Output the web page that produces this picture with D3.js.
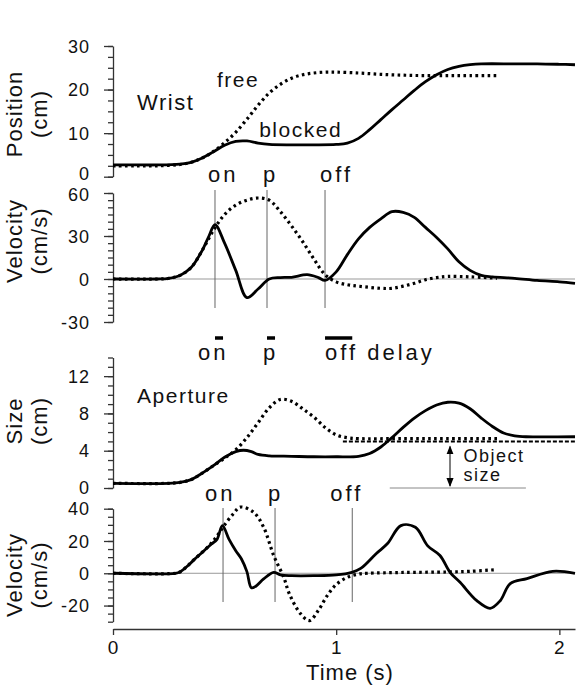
<!DOCTYPE html>
<html>
<head>
<meta charset="utf-8">
<script src="https://cdn.jsdelivr.net/npm/d3@7"></script>
<style>
  body { margin: 0; background: #fff; }
  svg { display: block; font-family: "Liberation Sans", Arial, sans-serif; }
  .tick text { font-size: 18px; letter-spacing: 1px; fill: #111; }
  .domain, .tick line { stroke: #333; stroke-width: 1.3; }
  .title { font-size: 22px; letter-spacing: 1px; fill: #111; }
  .note { font-size: 21px; letter-spacing: 1.5px; fill: #111; }
  .event { font-size: 22px; letter-spacing: 3px; fill: #111; }
  .solid { fill: none; stroke: #000; stroke-width: 2.8; }
  .dotted { fill: none; stroke: #000; stroke-width: 3.2; stroke-dasharray: 2.6 3.4; }
</style>
</head>
<body>
<svg id="chart" width="581" height="687"></svg>
<script>
// ---- data (time in s) ----
const wristPosBlocked = [[0,2.7],[0.1,2.7],[0.2,2.7],[0.3,2.9],[0.35,3.3],[0.4,4.3],[0.45,5.7],[0.5,7.2],[0.55,8.1],[0.6,8.2],[0.65,7.7],[0.7,7.4],[0.8,7.3],[0.9,7.3],[1.0,7.4],[1.05,7.7],[1.1,8.8],[1.15,10.8],[1.2,13.1],[1.25,15.4],[1.3,17.6],[1.35,19.8],[1.4,21.8],[1.45,23.4],[1.5,24.6],[1.55,25.3],[1.6,25.7],[1.65,25.9],[1.8,25.9],[1.9,25.9],[2.0,25.8],[2.07,25.7]];
const wristPosFree = [[0,2.5],[0.1,2.5],[0.2,2.5],[0.3,2.8],[0.35,3.3],[0.4,4.3],[0.45,5.8],[0.5,7.8],[0.55,10.2],[0.6,13.2],[0.65,16.4],[0.7,19.2],[0.75,21.2],[0.8,22.6],[0.85,23.4],[0.9,23.8],[0.95,24.0],[1.0,24.0],[1.1,23.8],[1.2,23.5],[1.3,23.3],[1.4,23.2],[1.5,23.2],[1.6,23.2],[1.72,23.2]];

const wristVelBlocked = [[0,0],[0.2,0],[0.25,0.5],[0.3,2.5],[0.35,8],[0.4,20],[0.43,30],[0.457,38],[0.5,25],[0.55,6],[0.6,-13],[0.65,-7],[0.7,0],[0.75,1],[0.8,1.2],[0.87,3],[0.92,1],[0.95,-1],[1.0,5],[1.05,17],[1.1,28],[1.15,36],[1.2,42],[1.25,47],[1.3,46.5],[1.35,43],[1.4,36],[1.45,29],[1.5,21],[1.55,12],[1.6,6],[1.65,2.5],[1.7,1.5],[1.8,0.5],[1.9,-1],[2.0,-2],[2.07,-3]];
const wristVelFree = [[0,0],[0.2,0],[0.25,0.5],[0.3,2.5],[0.35,8],[0.4,20],[0.45,34],[0.5,45],[0.55,51.5],[0.6,55],[0.65,56.5],[0.7,55],[0.75,47],[0.8,37],[0.85,26],[0.9,14],[0.95,3],[1.0,-2],[1.05,-4],[1.1,-5],[1.2,-6.5],[1.25,-6.5],[1.3,-5],[1.35,-3],[1.4,-0.5],[1.45,1],[1.5,1.8],[1.6,1.5],[1.72,0.5]];

const apSizeBlocked = [[0,0.5],[0.25,0.5],[0.3,0.6],[0.35,0.9],[0.4,1.6],[0.45,2.4],[0.5,3.3],[0.55,3.9],[0.585,4.05],[0.62,3.9],[0.65,3.6],[0.7,3.45],[0.8,3.4],[0.9,3.35],[1.0,3.35],[1.1,3.4],[1.15,3.7],[1.2,4.4],[1.25,5.4],[1.3,6.5],[1.35,7.5],[1.4,8.3],[1.45,8.9],[1.5,9.2],[1.55,9.1],[1.6,8.5],[1.65,7.5],[1.7,6.6],[1.75,5.9],[1.8,5.6],[1.85,5.5],[2.07,5.5]];
const apSizeFree = [[0,0.5],[0.25,0.5],[0.3,0.6],[0.35,0.9],[0.4,1.6],[0.45,2.4],[0.5,3.2],[0.55,4.1],[0.6,5.4],[0.65,7.0],[0.7,8.6],[0.75,9.5],[0.8,9.3],[0.85,8.5],[0.9,7.6],[0.95,6.5],[1.0,5.7],[1.05,5.4],[1.1,5.3],[1.3,5.3],[1.5,5.3],[1.73,5.3]];

const apVelBlocked = [[0,0],[0.28,0],[0.3,0.8],[0.33,4],[0.36,8],[0.4,13],[0.44,18],[0.466,21],[0.49,29.5],[0.52,21],[0.55,14],[0.575,9],[0.6,1],[0.62,-9],[0.64,-8],[0.675,-3.5],[0.72,0.6],[0.75,-1],[0.8,-1.5],[0.9,-1.5],[1.0,-1],[1.07,0.6],[1.11,3],[1.18,12.3],[1.23,18.4],[1.29,29.5],[1.355,28.5],[1.41,17],[1.465,11],[1.51,0.6],[1.555,-5.6],[1.63,-17],[1.69,-21.7],[1.735,-17],[1.78,-6.4],[1.855,-3.3],[1.97,1.2],[2.07,0]];
const apVelFree = [[0,0],[0.28,0],[0.3,0.8],[0.33,4],[0.36,8],[0.4,13],[0.44,18.5],[0.466,23],[0.5,30],[0.54,37],[0.57,41],[0.63,37.8],[0.675,28.5],[0.72,11],[0.765,-2.5],[0.79,-12.7],[0.84,-25],[0.88,-29.3],[0.92,-23],[0.96,-13.8],[1.0,-7],[1.05,-2.5],[1.1,-0.5],[1.14,0],[1.3,0.5],[1.5,0.8],[1.6,1.2],[1.72,2.3]];

const wristEvents = [0.457, 0.69, 0.95];
const apertureEvents = [0.493, 0.726, 1.072];
const eventNames = ['on', 'p', 'off'];
const delayNames = ['on', 'p', 'off delay'];
const objectSize = 5;

const posTicks = [0, 10, 20, 30];
const velTicks = [-30, 0, 30, 60];
const sizeTicks = [0, 4, 8, 12];
const apVelTicks = [-20, 0, 20, 40];
const timeTicks = [0, 1, 2];

// ---- layout ----
const svg = d3.select('#chart');
const x = d3.scaleLinear().domain([0, 2.07]).range([113, 575]);

const yPos = d3.scaleLinear().domain([0, 30]).range([176.7, 46]);
const yVel = d3.scaleLinear().domain([-30, 60]).range([322, 193]);
const ySize = d3.scaleLinear().domain([0, 14]).range([488, 357.5]);
const yApVel = d3.scaleLinear().domain([-30, 40]).range([621.7, 508.7]);

// nudge: optional {value: pixel shift} for labels crowded by the next panel
function yAxis(scale, major, minorStep, nudge = {}) {
  const [lo, hi] = scale.domain();
  const minor = d3.range(lo, hi + 0.001, minorStep);
  const g = svg.append('g').attr('transform', 'translate(113,0)');
  g.append('g').call(d3.axisLeft(scale).tickValues(minor).tickSize(5).tickFormat('').tickSizeOuter(0));
  g.append('g').call(d3.axisLeft(scale).tickValues(major).tickSize(9).tickPadding(14)
      .tickFormat(d => String(d)).tickSizeOuter(0))
    .select('.domain').remove();
  g.selectAll('.tick text').attr('dy', '0.34em')
    .attr('y', d => nudge[d] || 0);
}

function yTitle(lines, cy) {
  const g = svg.append('g');
  g.append('text').attr('class', 'title').attr('text-anchor', 'middle')
    .attr('transform', `translate(22,${cy}) rotate(-90)`).text(lines[0]);
  g.append('text').attr('class', 'title').attr('text-anchor', 'middle')
    .attr('transform', `translate(47,${cy}) rotate(-90)`).text(lines[1]);
}

function zeroLine(scale) {
  svg.append('line').attr('x1', x(0)).attr('x2', x.range()[1])
    .attr('y1', scale(0)).attr('y2', scale(0))
    .attr('stroke', '#999').attr('stroke-width', 1);
}

function eventLines(times, y1, y2) {
  svg.selectAll(null).data(times).enter().append('line')
    .attr('x1', d => x(d)).attr('x2', d => x(d))
    .attr('y1', y1).attr('y2', y2)
    .attr('stroke', '#666').attr('stroke-width', 1);
}

function curves(scale, free, blocked) {
  const line = d3.line().x(d => x(d[0])).y(d => scale(d[1])).curve(d3.curveCatmullRom.alpha(0.5));
  svg.append('path').attr('class', 'dotted').attr('d', line(free));
  svg.append('path').attr('class', 'solid').attr('d', line(blocked));
}

// wrist position
yAxis(yPos, posTicks, 2.5, {0: -3});
yTitle(['Position', '(cm)'], 114);
curves(yPos, wristPosFree, wristPosBlocked);
svg.append('text').attr('class', 'note').attr('x', x(0.108)).attr('y', yPos(15.3)).style('font-size', '22px').text('Wrist');
svg.append('text').attr('class', 'note').attr('x', x(0.466)).attr('y', yPos(20.6)).text('free');
svg.append('text').attr('class', 'note').attr('x', x(0.655)).attr('y', yPos(9.2)).text('blocked');

// wrist velocity
yAxis(yVel, velTicks, 5, {60: 1});
yTitle(['Velocity', '(cm/s)'], 241);
zeroLine(yVel);
eventLines(wristEvents, 190, 308);
curves(yVel, wristVelFree, wristVelBlocked);
const wristLabelDx = [-7, -4, -5];
svg.selectAll(null).data(eventNames).enter().append('text').attr('class', 'event')
  .attr('x', (d, i) => x(wristEvents[i]) + wristLabelDx[i]).attr('y', 182).text(d => d);

// delays between wrist and aperture events
svg.selectAll(null).data(wristEvents).enter().append('line')
  .attr('x1', d => x(d)).attr('x2', (d, i) => x(apertureEvents[i]))
  .attr('y1', 338).attr('y2', 338).attr('stroke', '#000').attr('stroke-width', 3.5);
const delayLabelX = [198, 263, 325];
svg.selectAll(null).data(delayNames).enter().append('text').attr('class', 'event')
  .attr('x', (d, i) => delayLabelX[i]).attr('y', 360).text(d => d);

// aperture size
yAxis(ySize, sizeTicks, 1, {0: -1});
yTitle(['Size', '(cm)'], 421);
svg.append('line').attr('x1', x(1.03)).attr('x2', x.range()[1])
  .attr('y1', ySize(objectSize)).attr('y2', ySize(objectSize))
  .attr('stroke', '#000').attr('stroke-width', 2).attr('stroke-dasharray', '4 2');
svg.append('line').attr('x1', x(1.24)).attr('x2', x(1.85))
  .attr('y1', ySize(0)).attr('y2', ySize(0)).attr('stroke', '#888').attr('stroke-width', 1);
curves(ySize, apSizeFree, apSizeBlocked);
svg.append('text').attr('class', 'note').attr('x', x(0.108)).attr('y', ySize(9.1)).text('Aperture');

const defs = svg.append('defs');
defs.append('marker').attr('id', 'head').attr('viewBox', '0 0 10 10').attr('refX', 9).attr('refY', 5)
  .attr('markerWidth', 9).attr('markerHeight', 9).attr('markerUnits', 'userSpaceOnUse').attr('orient', 'auto-start-reverse')
  .append('path').attr('d', 'M0,1 L10,5 L0,9 Z').attr('fill', '#000');
svg.append('line').attr('x1', x(1.51)).attr('x2', x(1.51))
  .attr('y1', ySize(objectSize) + 5).attr('y2', ySize(0) - 2)
  .attr('stroke', '#000').attr('stroke-width', 1)
  .attr('marker-start', 'url(#head)').attr('marker-end', 'url(#head)');
svg.append('text').attr('class', 'note').attr('x', x(1.57)).attr('y', 462).style('font-size', '18px').text('Object');
svg.append('text').attr('class', 'note').attr('x', x(1.57)).attr('y', 481).style('font-size', '18px').text('size');

// aperture velocity
yAxis(yApVel, apVelTicks, 5);
yTitle(['Velocity', '(cm/s)'], 575);
zeroLine(yApVel);
eventLines(apertureEvents, 508, 602);
curves(yApVel, apVelFree, apVelBlocked);
const apLabelDx = [-18, -7, -22];
svg.selectAll(null).data(eventNames).enter().append('text').attr('class', 'event')
  .attr('x', (d, i) => x(apertureEvents[i]) + apLabelDx[i]).attr('y', 501).text(d => d);

// time axis
const xg = svg.append('g').attr('transform', 'translate(0,629)')
  .call(d3.axisBottom(x).tickValues(timeTicks).tickSize(6).tickPadding(6).tickFormat(d => String(d)).tickSizeOuter(0));
xg.select('.domain').attr('stroke', '#555');
xg.selectAll('.tick text').style('font-size', '19px');
svg.append('text').attr('class', 'title').attr('x', 350).attr('y', 680).attr('text-anchor', 'middle').text('Time (s)');
</script>
</body>
</html>
